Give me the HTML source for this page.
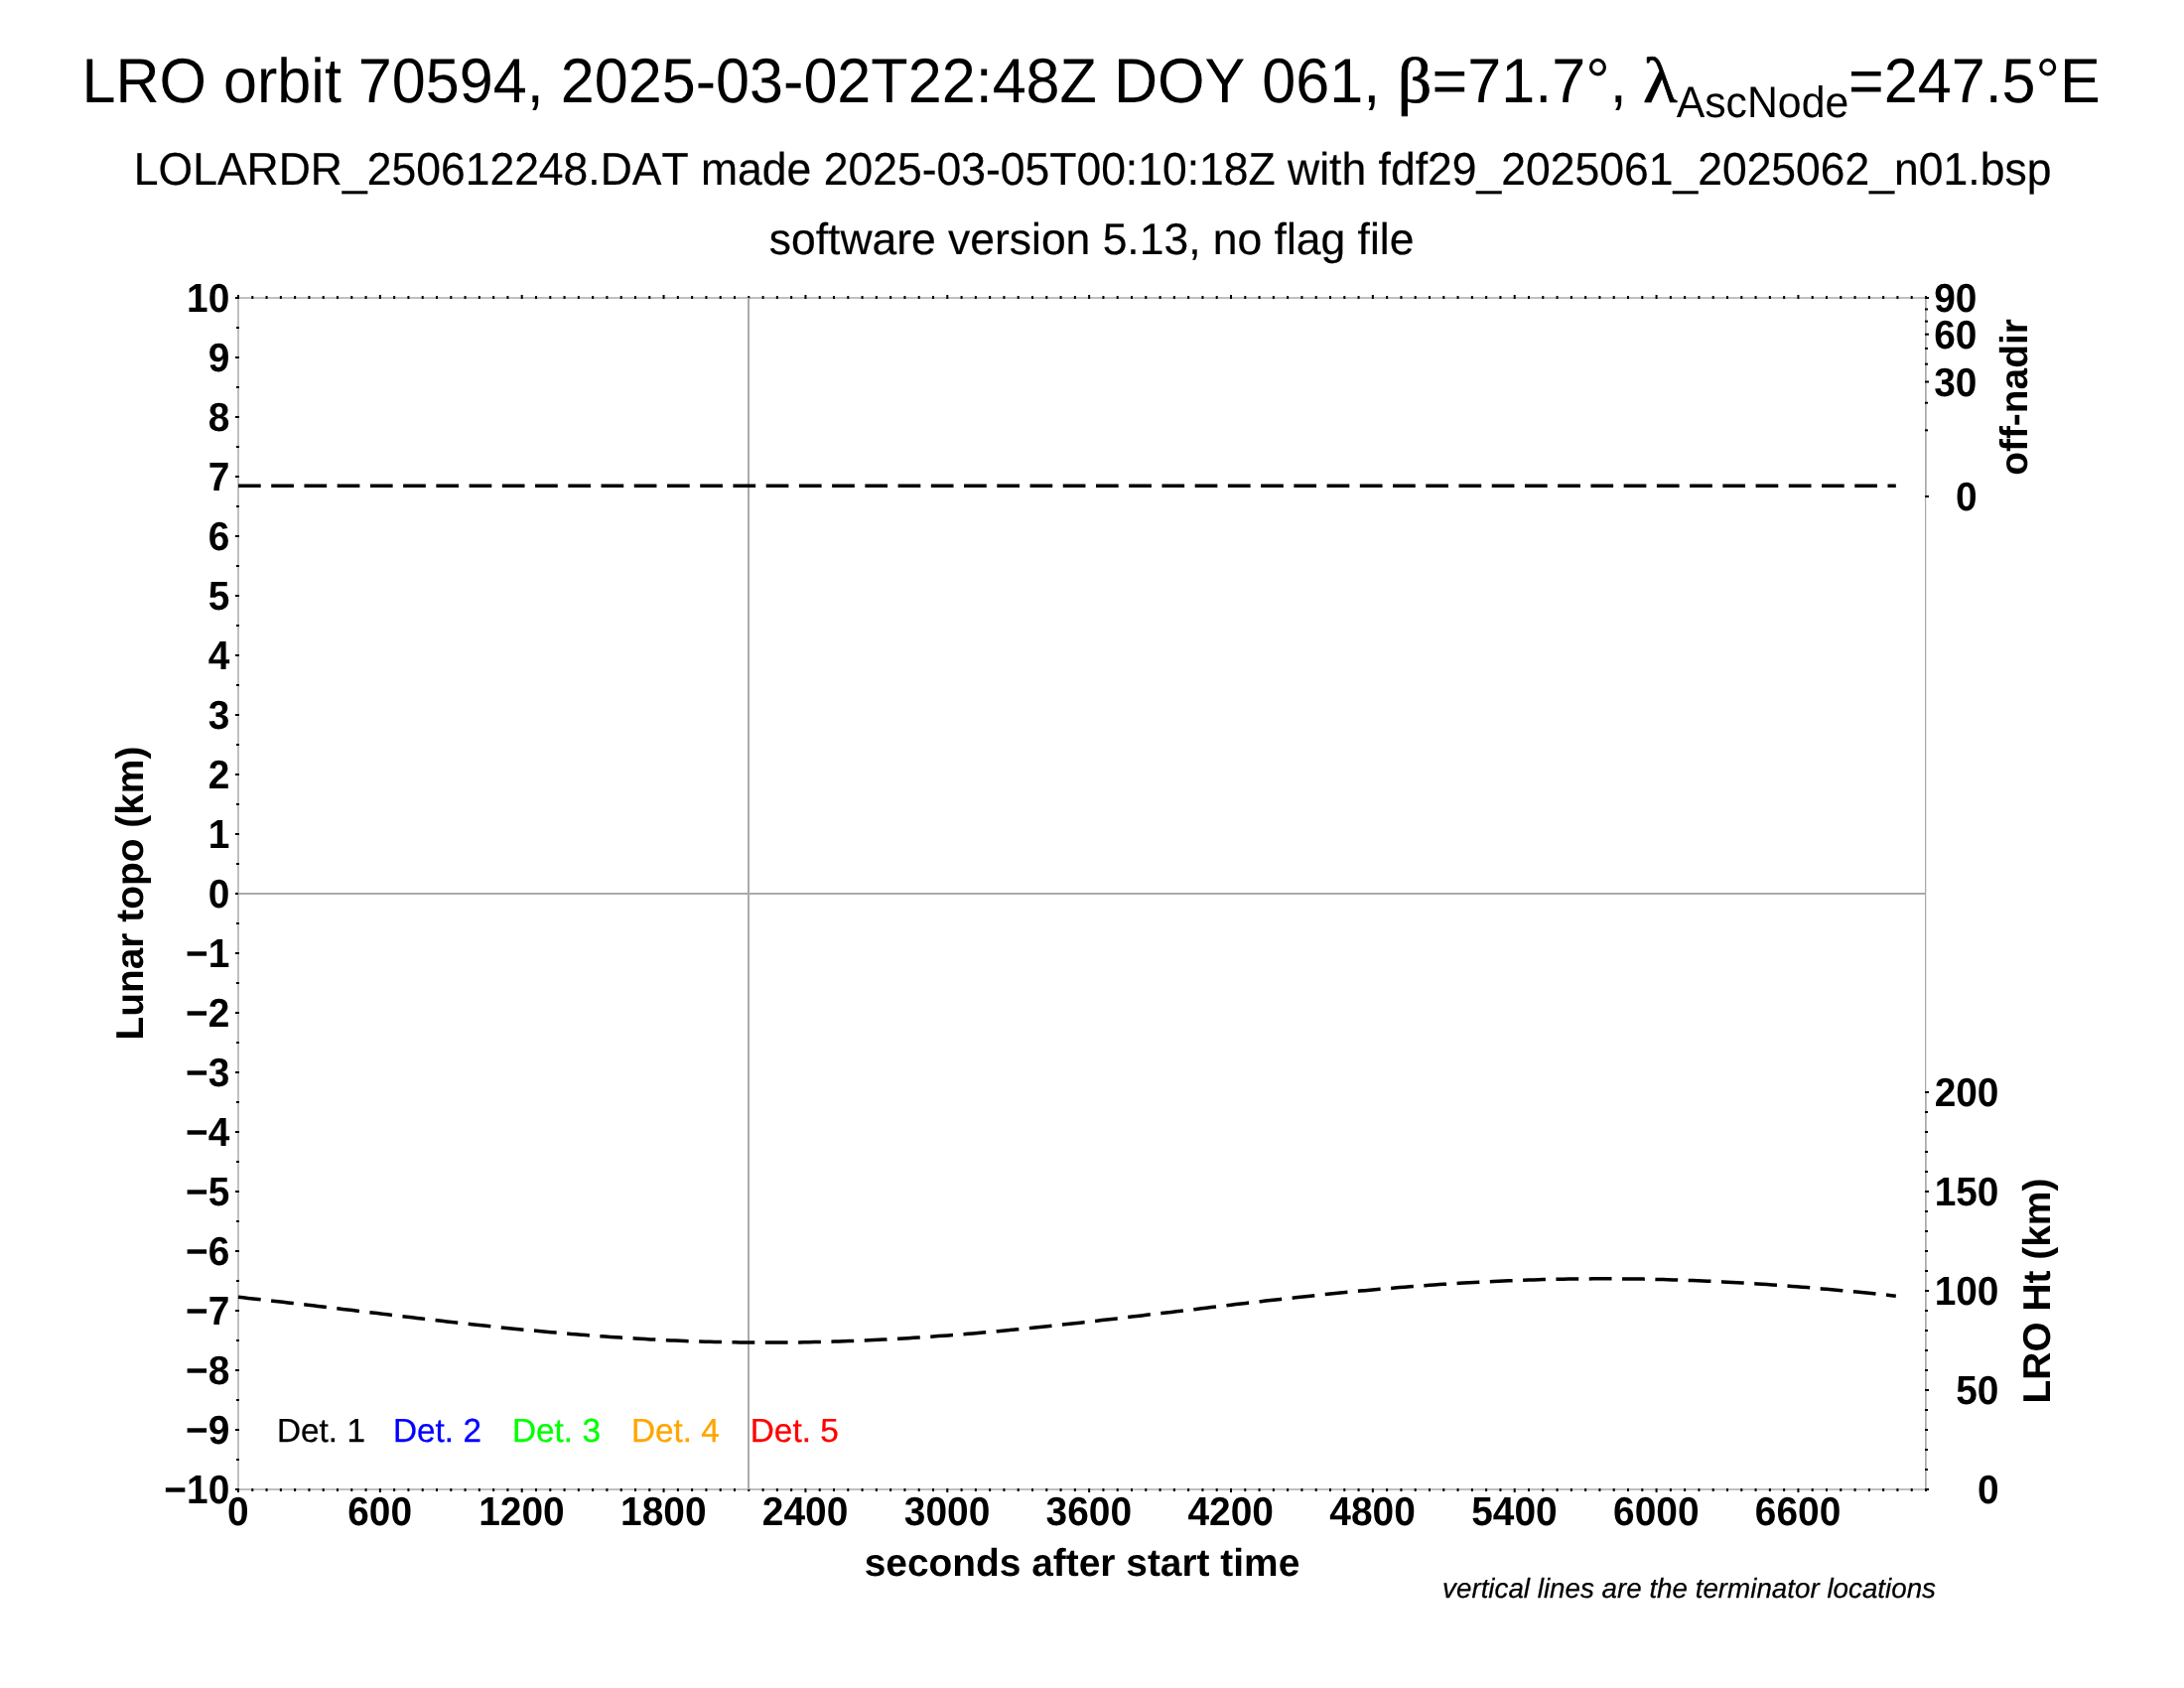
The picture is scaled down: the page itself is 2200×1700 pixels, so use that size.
<!DOCTYPE html>
<html lang="en">
<head>
<meta charset="utf-8">
<title>LRO orbit 70594 LOLA RDR summary</title>
<style>
html,body{margin:0;padding:0;background:#fff;}
body{width:2200px;height:1700px;overflow:hidden;font-family:'Liberation Sans', sans-serif;}
svg{display:block;will-change:transform;}
svg text{font-kerning:none;font-variant-ligatures:none;}
</style>
</head>
<body>
<svg width="2200" height="1700" viewBox="0 0 2200 1700" text-rendering="geometricPrecision">
<rect width="2200" height="1700" fill="#ffffff"/>
<g shape-rendering="crispEdges">
<rect x="239.00" y="299.00" width="1702.00" height="2.00" fill="#c0c0c0"/>
<rect x="239.00" y="1499.00" width="1702.00" height="2.00" fill="#c0c0c0"/>
<rect x="239.00" y="299.00" width="2.00" height="1202.00" fill="#c0c0c0"/>
<rect x="1939.00" y="299.00" width="2.00" height="202.00" fill="#c0c0c0"/>
<rect x="1939.00" y="1099.00" width="2.00" height="402.00" fill="#c0c0c0"/>
<rect x="1939.00" y="299.00" width="1.00" height="1202.00" fill="#aaaaaa"/>
<rect x="1940" y="501" width="1" height="598" fill="#a9a9a9" fill-opacity="0.25"/>
</g>
<g fill="#000">
<rect x="239.00" y="1499.00" width="2.00" height="4.00" fill="#000"/>
<rect x="239.00" y="297.00" width="2.00" height="4.00" fill="#000"/>
<rect x="253.29" y="1499.00" width="2.00" height="3.00" fill="#000"/>
<rect x="253.29" y="298.00" width="2.00" height="3.00" fill="#000"/>
<rect x="267.57" y="1499.00" width="2.00" height="3.00" fill="#000"/>
<rect x="267.57" y="298.00" width="2.00" height="3.00" fill="#000"/>
<rect x="281.86" y="1499.00" width="2.00" height="3.00" fill="#000"/>
<rect x="281.86" y="298.00" width="2.00" height="3.00" fill="#000"/>
<rect x="296.14" y="1499.00" width="2.00" height="3.00" fill="#000"/>
<rect x="296.14" y="298.00" width="2.00" height="3.00" fill="#000"/>
<rect x="310.43" y="1499.00" width="2.00" height="3.00" fill="#000"/>
<rect x="310.43" y="298.00" width="2.00" height="3.00" fill="#000"/>
<rect x="324.71" y="1499.00" width="2.00" height="3.00" fill="#000"/>
<rect x="324.71" y="298.00" width="2.00" height="3.00" fill="#000"/>
<rect x="339.00" y="1499.00" width="2.00" height="3.00" fill="#000"/>
<rect x="339.00" y="298.00" width="2.00" height="3.00" fill="#000"/>
<rect x="353.29" y="1499.00" width="2.00" height="3.00" fill="#000"/>
<rect x="353.29" y="298.00" width="2.00" height="3.00" fill="#000"/>
<rect x="367.57" y="1499.00" width="2.00" height="3.00" fill="#000"/>
<rect x="367.57" y="298.00" width="2.00" height="3.00" fill="#000"/>
<rect x="381.86" y="1499.00" width="2.00" height="4.00" fill="#000"/>
<rect x="381.86" y="297.00" width="2.00" height="4.00" fill="#000"/>
<rect x="396.14" y="1499.00" width="2.00" height="3.00" fill="#000"/>
<rect x="396.14" y="298.00" width="2.00" height="3.00" fill="#000"/>
<rect x="410.43" y="1499.00" width="2.00" height="3.00" fill="#000"/>
<rect x="410.43" y="298.00" width="2.00" height="3.00" fill="#000"/>
<rect x="424.71" y="1499.00" width="2.00" height="3.00" fill="#000"/>
<rect x="424.71" y="298.00" width="2.00" height="3.00" fill="#000"/>
<rect x="439.00" y="1499.00" width="2.00" height="3.00" fill="#000"/>
<rect x="439.00" y="298.00" width="2.00" height="3.00" fill="#000"/>
<rect x="453.29" y="1499.00" width="2.00" height="3.00" fill="#000"/>
<rect x="453.29" y="298.00" width="2.00" height="3.00" fill="#000"/>
<rect x="467.57" y="1499.00" width="2.00" height="3.00" fill="#000"/>
<rect x="467.57" y="298.00" width="2.00" height="3.00" fill="#000"/>
<rect x="481.86" y="1499.00" width="2.00" height="3.00" fill="#000"/>
<rect x="481.86" y="298.00" width="2.00" height="3.00" fill="#000"/>
<rect x="496.14" y="1499.00" width="2.00" height="3.00" fill="#000"/>
<rect x="496.14" y="298.00" width="2.00" height="3.00" fill="#000"/>
<rect x="510.43" y="1499.00" width="2.00" height="3.00" fill="#000"/>
<rect x="510.43" y="298.00" width="2.00" height="3.00" fill="#000"/>
<rect x="524.71" y="1499.00" width="2.00" height="4.00" fill="#000"/>
<rect x="524.71" y="297.00" width="2.00" height="4.00" fill="#000"/>
<rect x="539.00" y="1499.00" width="2.00" height="3.00" fill="#000"/>
<rect x="539.00" y="298.00" width="2.00" height="3.00" fill="#000"/>
<rect x="553.29" y="1499.00" width="2.00" height="3.00" fill="#000"/>
<rect x="553.29" y="298.00" width="2.00" height="3.00" fill="#000"/>
<rect x="567.57" y="1499.00" width="2.00" height="3.00" fill="#000"/>
<rect x="567.57" y="298.00" width="2.00" height="3.00" fill="#000"/>
<rect x="581.86" y="1499.00" width="2.00" height="3.00" fill="#000"/>
<rect x="581.86" y="298.00" width="2.00" height="3.00" fill="#000"/>
<rect x="596.14" y="1499.00" width="2.00" height="3.00" fill="#000"/>
<rect x="596.14" y="298.00" width="2.00" height="3.00" fill="#000"/>
<rect x="610.43" y="1499.00" width="2.00" height="3.00" fill="#000"/>
<rect x="610.43" y="298.00" width="2.00" height="3.00" fill="#000"/>
<rect x="624.71" y="1499.00" width="2.00" height="3.00" fill="#000"/>
<rect x="624.71" y="298.00" width="2.00" height="3.00" fill="#000"/>
<rect x="639.00" y="1499.00" width="2.00" height="3.00" fill="#000"/>
<rect x="639.00" y="298.00" width="2.00" height="3.00" fill="#000"/>
<rect x="653.29" y="1499.00" width="2.00" height="3.00" fill="#000"/>
<rect x="653.29" y="298.00" width="2.00" height="3.00" fill="#000"/>
<rect x="667.57" y="1499.00" width="2.00" height="4.00" fill="#000"/>
<rect x="667.57" y="297.00" width="2.00" height="4.00" fill="#000"/>
<rect x="681.86" y="1499.00" width="2.00" height="3.00" fill="#000"/>
<rect x="681.86" y="298.00" width="2.00" height="3.00" fill="#000"/>
<rect x="696.14" y="1499.00" width="2.00" height="3.00" fill="#000"/>
<rect x="696.14" y="298.00" width="2.00" height="3.00" fill="#000"/>
<rect x="710.43" y="1499.00" width="2.00" height="3.00" fill="#000"/>
<rect x="710.43" y="298.00" width="2.00" height="3.00" fill="#000"/>
<rect x="724.71" y="1499.00" width="2.00" height="3.00" fill="#000"/>
<rect x="724.71" y="298.00" width="2.00" height="3.00" fill="#000"/>
<rect x="739.00" y="1499.00" width="2.00" height="3.00" fill="#000"/>
<rect x="739.00" y="298.00" width="2.00" height="3.00" fill="#000"/>
<rect x="753.29" y="1499.00" width="2.00" height="3.00" fill="#000"/>
<rect x="753.29" y="298.00" width="2.00" height="3.00" fill="#000"/>
<rect x="767.57" y="1499.00" width="2.00" height="3.00" fill="#000"/>
<rect x="767.57" y="298.00" width="2.00" height="3.00" fill="#000"/>
<rect x="781.86" y="1499.00" width="2.00" height="3.00" fill="#000"/>
<rect x="781.86" y="298.00" width="2.00" height="3.00" fill="#000"/>
<rect x="796.14" y="1499.00" width="2.00" height="3.00" fill="#000"/>
<rect x="796.14" y="298.00" width="2.00" height="3.00" fill="#000"/>
<rect x="810.43" y="1499.00" width="2.00" height="4.00" fill="#000"/>
<rect x="810.43" y="297.00" width="2.00" height="4.00" fill="#000"/>
<rect x="824.71" y="1499.00" width="2.00" height="3.00" fill="#000"/>
<rect x="824.71" y="298.00" width="2.00" height="3.00" fill="#000"/>
<rect x="839.00" y="1499.00" width="2.00" height="3.00" fill="#000"/>
<rect x="839.00" y="298.00" width="2.00" height="3.00" fill="#000"/>
<rect x="853.29" y="1499.00" width="2.00" height="3.00" fill="#000"/>
<rect x="853.29" y="298.00" width="2.00" height="3.00" fill="#000"/>
<rect x="867.57" y="1499.00" width="2.00" height="3.00" fill="#000"/>
<rect x="867.57" y="298.00" width="2.00" height="3.00" fill="#000"/>
<rect x="881.86" y="1499.00" width="2.00" height="3.00" fill="#000"/>
<rect x="881.86" y="298.00" width="2.00" height="3.00" fill="#000"/>
<rect x="896.14" y="1499.00" width="2.00" height="3.00" fill="#000"/>
<rect x="896.14" y="298.00" width="2.00" height="3.00" fill="#000"/>
<rect x="910.43" y="1499.00" width="2.00" height="3.00" fill="#000"/>
<rect x="910.43" y="298.00" width="2.00" height="3.00" fill="#000"/>
<rect x="924.71" y="1499.00" width="2.00" height="3.00" fill="#000"/>
<rect x="924.71" y="298.00" width="2.00" height="3.00" fill="#000"/>
<rect x="939.00" y="1499.00" width="2.00" height="3.00" fill="#000"/>
<rect x="939.00" y="298.00" width="2.00" height="3.00" fill="#000"/>
<rect x="953.29" y="1499.00" width="2.00" height="4.00" fill="#000"/>
<rect x="953.29" y="297.00" width="2.00" height="4.00" fill="#000"/>
<rect x="967.57" y="1499.00" width="2.00" height="3.00" fill="#000"/>
<rect x="967.57" y="298.00" width="2.00" height="3.00" fill="#000"/>
<rect x="981.86" y="1499.00" width="2.00" height="3.00" fill="#000"/>
<rect x="981.86" y="298.00" width="2.00" height="3.00" fill="#000"/>
<rect x="996.14" y="1499.00" width="2.00" height="3.00" fill="#000"/>
<rect x="996.14" y="298.00" width="2.00" height="3.00" fill="#000"/>
<rect x="1010.43" y="1499.00" width="2.00" height="3.00" fill="#000"/>
<rect x="1010.43" y="298.00" width="2.00" height="3.00" fill="#000"/>
<rect x="1024.71" y="1499.00" width="2.00" height="3.00" fill="#000"/>
<rect x="1024.71" y="298.00" width="2.00" height="3.00" fill="#000"/>
<rect x="1039.00" y="1499.00" width="2.00" height="3.00" fill="#000"/>
<rect x="1039.00" y="298.00" width="2.00" height="3.00" fill="#000"/>
<rect x="1053.29" y="1499.00" width="2.00" height="3.00" fill="#000"/>
<rect x="1053.29" y="298.00" width="2.00" height="3.00" fill="#000"/>
<rect x="1067.57" y="1499.00" width="2.00" height="3.00" fill="#000"/>
<rect x="1067.57" y="298.00" width="2.00" height="3.00" fill="#000"/>
<rect x="1081.86" y="1499.00" width="2.00" height="3.00" fill="#000"/>
<rect x="1081.86" y="298.00" width="2.00" height="3.00" fill="#000"/>
<rect x="1096.14" y="1499.00" width="2.00" height="4.00" fill="#000"/>
<rect x="1096.14" y="297.00" width="2.00" height="4.00" fill="#000"/>
<rect x="1110.43" y="1499.00" width="2.00" height="3.00" fill="#000"/>
<rect x="1110.43" y="298.00" width="2.00" height="3.00" fill="#000"/>
<rect x="1124.71" y="1499.00" width="2.00" height="3.00" fill="#000"/>
<rect x="1124.71" y="298.00" width="2.00" height="3.00" fill="#000"/>
<rect x="1139.00" y="1499.00" width="2.00" height="3.00" fill="#000"/>
<rect x="1139.00" y="298.00" width="2.00" height="3.00" fill="#000"/>
<rect x="1153.29" y="1499.00" width="2.00" height="3.00" fill="#000"/>
<rect x="1153.29" y="298.00" width="2.00" height="3.00" fill="#000"/>
<rect x="1167.57" y="1499.00" width="2.00" height="3.00" fill="#000"/>
<rect x="1167.57" y="298.00" width="2.00" height="3.00" fill="#000"/>
<rect x="1181.86" y="1499.00" width="2.00" height="3.00" fill="#000"/>
<rect x="1181.86" y="298.00" width="2.00" height="3.00" fill="#000"/>
<rect x="1196.14" y="1499.00" width="2.00" height="3.00" fill="#000"/>
<rect x="1196.14" y="298.00" width="2.00" height="3.00" fill="#000"/>
<rect x="1210.43" y="1499.00" width="2.00" height="3.00" fill="#000"/>
<rect x="1210.43" y="298.00" width="2.00" height="3.00" fill="#000"/>
<rect x="1224.71" y="1499.00" width="2.00" height="3.00" fill="#000"/>
<rect x="1224.71" y="298.00" width="2.00" height="3.00" fill="#000"/>
<rect x="1239.00" y="1499.00" width="2.00" height="4.00" fill="#000"/>
<rect x="1239.00" y="297.00" width="2.00" height="4.00" fill="#000"/>
<rect x="1253.29" y="1499.00" width="2.00" height="3.00" fill="#000"/>
<rect x="1253.29" y="298.00" width="2.00" height="3.00" fill="#000"/>
<rect x="1267.57" y="1499.00" width="2.00" height="3.00" fill="#000"/>
<rect x="1267.57" y="298.00" width="2.00" height="3.00" fill="#000"/>
<rect x="1281.86" y="1499.00" width="2.00" height="3.00" fill="#000"/>
<rect x="1281.86" y="298.00" width="2.00" height="3.00" fill="#000"/>
<rect x="1296.14" y="1499.00" width="2.00" height="3.00" fill="#000"/>
<rect x="1296.14" y="298.00" width="2.00" height="3.00" fill="#000"/>
<rect x="1310.43" y="1499.00" width="2.00" height="3.00" fill="#000"/>
<rect x="1310.43" y="298.00" width="2.00" height="3.00" fill="#000"/>
<rect x="1324.71" y="1499.00" width="2.00" height="3.00" fill="#000"/>
<rect x="1324.71" y="298.00" width="2.00" height="3.00" fill="#000"/>
<rect x="1339.00" y="1499.00" width="2.00" height="3.00" fill="#000"/>
<rect x="1339.00" y="298.00" width="2.00" height="3.00" fill="#000"/>
<rect x="1353.29" y="1499.00" width="2.00" height="3.00" fill="#000"/>
<rect x="1353.29" y="298.00" width="2.00" height="3.00" fill="#000"/>
<rect x="1367.57" y="1499.00" width="2.00" height="3.00" fill="#000"/>
<rect x="1367.57" y="298.00" width="2.00" height="3.00" fill="#000"/>
<rect x="1381.86" y="1499.00" width="2.00" height="4.00" fill="#000"/>
<rect x="1381.86" y="297.00" width="2.00" height="4.00" fill="#000"/>
<rect x="1396.14" y="1499.00" width="2.00" height="3.00" fill="#000"/>
<rect x="1396.14" y="298.00" width="2.00" height="3.00" fill="#000"/>
<rect x="1410.43" y="1499.00" width="2.00" height="3.00" fill="#000"/>
<rect x="1410.43" y="298.00" width="2.00" height="3.00" fill="#000"/>
<rect x="1424.71" y="1499.00" width="2.00" height="3.00" fill="#000"/>
<rect x="1424.71" y="298.00" width="2.00" height="3.00" fill="#000"/>
<rect x="1439.00" y="1499.00" width="2.00" height="3.00" fill="#000"/>
<rect x="1439.00" y="298.00" width="2.00" height="3.00" fill="#000"/>
<rect x="1453.29" y="1499.00" width="2.00" height="3.00" fill="#000"/>
<rect x="1453.29" y="298.00" width="2.00" height="3.00" fill="#000"/>
<rect x="1467.57" y="1499.00" width="2.00" height="3.00" fill="#000"/>
<rect x="1467.57" y="298.00" width="2.00" height="3.00" fill="#000"/>
<rect x="1481.86" y="1499.00" width="2.00" height="3.00" fill="#000"/>
<rect x="1481.86" y="298.00" width="2.00" height="3.00" fill="#000"/>
<rect x="1496.14" y="1499.00" width="2.00" height="3.00" fill="#000"/>
<rect x="1496.14" y="298.00" width="2.00" height="3.00" fill="#000"/>
<rect x="1510.43" y="1499.00" width="2.00" height="3.00" fill="#000"/>
<rect x="1510.43" y="298.00" width="2.00" height="3.00" fill="#000"/>
<rect x="1524.71" y="1499.00" width="2.00" height="4.00" fill="#000"/>
<rect x="1524.71" y="297.00" width="2.00" height="4.00" fill="#000"/>
<rect x="1539.00" y="1499.00" width="2.00" height="3.00" fill="#000"/>
<rect x="1539.00" y="298.00" width="2.00" height="3.00" fill="#000"/>
<rect x="1553.29" y="1499.00" width="2.00" height="3.00" fill="#000"/>
<rect x="1553.29" y="298.00" width="2.00" height="3.00" fill="#000"/>
<rect x="1567.57" y="1499.00" width="2.00" height="3.00" fill="#000"/>
<rect x="1567.57" y="298.00" width="2.00" height="3.00" fill="#000"/>
<rect x="1581.86" y="1499.00" width="2.00" height="3.00" fill="#000"/>
<rect x="1581.86" y="298.00" width="2.00" height="3.00" fill="#000"/>
<rect x="1596.14" y="1499.00" width="2.00" height="3.00" fill="#000"/>
<rect x="1596.14" y="298.00" width="2.00" height="3.00" fill="#000"/>
<rect x="1610.43" y="1499.00" width="2.00" height="3.00" fill="#000"/>
<rect x="1610.43" y="298.00" width="2.00" height="3.00" fill="#000"/>
<rect x="1624.71" y="1499.00" width="2.00" height="3.00" fill="#000"/>
<rect x="1624.71" y="298.00" width="2.00" height="3.00" fill="#000"/>
<rect x="1639.00" y="1499.00" width="2.00" height="3.00" fill="#000"/>
<rect x="1639.00" y="298.00" width="2.00" height="3.00" fill="#000"/>
<rect x="1653.29" y="1499.00" width="2.00" height="3.00" fill="#000"/>
<rect x="1653.29" y="298.00" width="2.00" height="3.00" fill="#000"/>
<rect x="1667.57" y="1499.00" width="2.00" height="4.00" fill="#000"/>
<rect x="1667.57" y="297.00" width="2.00" height="4.00" fill="#000"/>
<rect x="1681.86" y="1499.00" width="2.00" height="3.00" fill="#000"/>
<rect x="1681.86" y="298.00" width="2.00" height="3.00" fill="#000"/>
<rect x="1696.14" y="1499.00" width="2.00" height="3.00" fill="#000"/>
<rect x="1696.14" y="298.00" width="2.00" height="3.00" fill="#000"/>
<rect x="1710.43" y="1499.00" width="2.00" height="3.00" fill="#000"/>
<rect x="1710.43" y="298.00" width="2.00" height="3.00" fill="#000"/>
<rect x="1724.71" y="1499.00" width="2.00" height="3.00" fill="#000"/>
<rect x="1724.71" y="298.00" width="2.00" height="3.00" fill="#000"/>
<rect x="1739.00" y="1499.00" width="2.00" height="3.00" fill="#000"/>
<rect x="1739.00" y="298.00" width="2.00" height="3.00" fill="#000"/>
<rect x="1753.29" y="1499.00" width="2.00" height="3.00" fill="#000"/>
<rect x="1753.29" y="298.00" width="2.00" height="3.00" fill="#000"/>
<rect x="1767.57" y="1499.00" width="2.00" height="3.00" fill="#000"/>
<rect x="1767.57" y="298.00" width="2.00" height="3.00" fill="#000"/>
<rect x="1781.86" y="1499.00" width="2.00" height="3.00" fill="#000"/>
<rect x="1781.86" y="298.00" width="2.00" height="3.00" fill="#000"/>
<rect x="1796.14" y="1499.00" width="2.00" height="3.00" fill="#000"/>
<rect x="1796.14" y="298.00" width="2.00" height="3.00" fill="#000"/>
<rect x="1810.43" y="1499.00" width="2.00" height="4.00" fill="#000"/>
<rect x="1810.43" y="297.00" width="2.00" height="4.00" fill="#000"/>
<rect x="1824.71" y="1499.00" width="2.00" height="3.00" fill="#000"/>
<rect x="1824.71" y="298.00" width="2.00" height="3.00" fill="#000"/>
<rect x="1839.00" y="1499.00" width="2.00" height="3.00" fill="#000"/>
<rect x="1839.00" y="298.00" width="2.00" height="3.00" fill="#000"/>
<rect x="1853.29" y="1499.00" width="2.00" height="3.00" fill="#000"/>
<rect x="1853.29" y="298.00" width="2.00" height="3.00" fill="#000"/>
<rect x="1867.57" y="1499.00" width="2.00" height="3.00" fill="#000"/>
<rect x="1867.57" y="298.00" width="2.00" height="3.00" fill="#000"/>
<rect x="1881.86" y="1499.00" width="2.00" height="3.00" fill="#000"/>
<rect x="1881.86" y="298.00" width="2.00" height="3.00" fill="#000"/>
<rect x="1896.14" y="1499.00" width="2.00" height="3.00" fill="#000"/>
<rect x="1896.14" y="298.00" width="2.00" height="3.00" fill="#000"/>
<rect x="1910.43" y="1499.00" width="2.00" height="3.00" fill="#000"/>
<rect x="1910.43" y="298.00" width="2.00" height="3.00" fill="#000"/>
<rect x="1924.71" y="1499.00" width="2.00" height="3.00" fill="#000"/>
<rect x="1924.71" y="298.00" width="2.00" height="3.00" fill="#000"/>
<rect x="1939.00" y="1499.00" width="2.00" height="3.00" fill="#000"/>
<rect x="1939.00" y="298.00" width="2.00" height="3.00" fill="#000"/>
<rect x="237.00" y="1499.00" width="4.00" height="2.00" fill="#000"/>
<rect x="238.00" y="1469.00" width="3.00" height="2.00" fill="#000"/>
<rect x="237.00" y="1439.00" width="4.00" height="2.00" fill="#000"/>
<rect x="238.00" y="1409.00" width="3.00" height="2.00" fill="#000"/>
<rect x="237.00" y="1379.00" width="4.00" height="2.00" fill="#000"/>
<rect x="238.00" y="1349.00" width="3.00" height="2.00" fill="#000"/>
<rect x="237.00" y="1319.00" width="4.00" height="2.00" fill="#000"/>
<rect x="238.00" y="1289.00" width="3.00" height="2.00" fill="#000"/>
<rect x="237.00" y="1259.00" width="4.00" height="2.00" fill="#000"/>
<rect x="238.00" y="1229.00" width="3.00" height="2.00" fill="#000"/>
<rect x="237.00" y="1199.00" width="4.00" height="2.00" fill="#000"/>
<rect x="238.00" y="1169.00" width="3.00" height="2.00" fill="#000"/>
<rect x="237.00" y="1139.00" width="4.00" height="2.00" fill="#000"/>
<rect x="238.00" y="1109.00" width="3.00" height="2.00" fill="#000"/>
<rect x="237.00" y="1079.00" width="4.00" height="2.00" fill="#000"/>
<rect x="238.00" y="1049.00" width="3.00" height="2.00" fill="#000"/>
<rect x="237.00" y="1019.00" width="4.00" height="2.00" fill="#000"/>
<rect x="238.00" y="989.00" width="3.00" height="2.00" fill="#000"/>
<rect x="237.00" y="959.00" width="4.00" height="2.00" fill="#000"/>
<rect x="238.00" y="929.00" width="3.00" height="2.00" fill="#000"/>
<rect x="237.00" y="899.00" width="4.00" height="2.00" fill="#000"/>
<rect x="238.00" y="869.00" width="3.00" height="2.00" fill="#000"/>
<rect x="237.00" y="839.00" width="4.00" height="2.00" fill="#000"/>
<rect x="238.00" y="809.00" width="3.00" height="2.00" fill="#000"/>
<rect x="237.00" y="779.00" width="4.00" height="2.00" fill="#000"/>
<rect x="238.00" y="749.00" width="3.00" height="2.00" fill="#000"/>
<rect x="237.00" y="719.00" width="4.00" height="2.00" fill="#000"/>
<rect x="238.00" y="689.00" width="3.00" height="2.00" fill="#000"/>
<rect x="237.00" y="659.00" width="4.00" height="2.00" fill="#000"/>
<rect x="238.00" y="629.00" width="3.00" height="2.00" fill="#000"/>
<rect x="237.00" y="599.00" width="4.00" height="2.00" fill="#000"/>
<rect x="238.00" y="569.00" width="3.00" height="2.00" fill="#000"/>
<rect x="237.00" y="539.00" width="4.00" height="2.00" fill="#000"/>
<rect x="238.00" y="509.00" width="3.00" height="2.00" fill="#000"/>
<rect x="237.00" y="479.00" width="4.00" height="2.00" fill="#000"/>
<rect x="238.00" y="449.00" width="3.00" height="2.00" fill="#000"/>
<rect x="237.00" y="419.00" width="4.00" height="2.00" fill="#000"/>
<rect x="238.00" y="389.00" width="3.00" height="2.00" fill="#000"/>
<rect x="237.00" y="359.00" width="4.00" height="2.00" fill="#000"/>
<rect x="238.00" y="329.00" width="3.00" height="2.00" fill="#000"/>
<rect x="237.00" y="299.00" width="4.00" height="2.00" fill="#000"/>
<rect x="1939.00" y="1499.00" width="4.00" height="2.00" fill="#000"/>
<rect x="1939.00" y="1479.00" width="3.00" height="2.00" fill="#000"/>
<rect x="1939.00" y="1459.00" width="3.00" height="2.00" fill="#000"/>
<rect x="1939.00" y="1439.00" width="3.00" height="2.00" fill="#000"/>
<rect x="1939.00" y="1419.00" width="3.00" height="2.00" fill="#000"/>
<rect x="1939.00" y="1399.00" width="4.00" height="2.00" fill="#000"/>
<rect x="1939.00" y="1379.00" width="3.00" height="2.00" fill="#000"/>
<rect x="1939.00" y="1359.00" width="3.00" height="2.00" fill="#000"/>
<rect x="1939.00" y="1339.00" width="3.00" height="2.00" fill="#000"/>
<rect x="1939.00" y="1319.00" width="3.00" height="2.00" fill="#000"/>
<rect x="1939.00" y="1299.00" width="4.00" height="2.00" fill="#000"/>
<rect x="1939.00" y="1279.00" width="3.00" height="2.00" fill="#000"/>
<rect x="1939.00" y="1259.00" width="3.00" height="2.00" fill="#000"/>
<rect x="1939.00" y="1239.00" width="3.00" height="2.00" fill="#000"/>
<rect x="1939.00" y="1219.00" width="3.00" height="2.00" fill="#000"/>
<rect x="1939.00" y="1199.00" width="4.00" height="2.00" fill="#000"/>
<rect x="1939.00" y="1179.00" width="3.00" height="2.00" fill="#000"/>
<rect x="1939.00" y="1159.00" width="3.00" height="2.00" fill="#000"/>
<rect x="1939.00" y="1139.00" width="3.00" height="2.00" fill="#000"/>
<rect x="1939.00" y="1119.00" width="3.00" height="2.00" fill="#000"/>
<rect x="1939.00" y="1099.00" width="4.00" height="2.00" fill="#000"/>
<rect x="1939.00" y="499.00" width="4.00" height="2.00" fill="#000"/>
<rect x="1939.00" y="432.33" width="3.00" height="2.00" fill="#000"/>
<rect x="1939.00" y="404.72" width="3.00" height="2.00" fill="#000"/>
<rect x="1939.00" y="383.53" width="4.00" height="2.00" fill="#000"/>
<rect x="1939.00" y="365.67" width="3.00" height="2.00" fill="#000"/>
<rect x="1939.00" y="349.93" width="3.00" height="2.00" fill="#000"/>
<rect x="1939.00" y="335.70" width="4.00" height="2.00" fill="#000"/>
<rect x="1939.00" y="322.62" width="3.00" height="2.00" fill="#000"/>
<rect x="1939.00" y="310.44" width="3.00" height="2.00" fill="#000"/>
<rect x="1939.00" y="299.00" width="4.00" height="2.00" fill="#000"/>
</g>
<g shape-rendering="crispEdges">
<rect x="240.00" y="899.00" width="1699.00" height="2.00" fill="#aaaaaa"/>
<rect x="753.00" y="300.00" width="2.00" height="1200.00" fill="#aaaaaa"/>
</g>
<path d="M240.0,1306.3 L245.0,1306.8 L250.0,1307.4 L255.0,1307.9 L260.0,1308.5 L265.0,1309.0 L270.0,1309.6 L275.0,1310.2 L280.0,1310.7 L285.0,1311.3 L290.0,1311.9 L295.0,1312.5 L300.0,1313.1 L305.0,1313.7 L310.0,1314.2 L315.0,1314.8 L320.0,1315.4 L325.0,1316.0 L330.0,1316.6 L335.0,1317.2 L340.0,1317.8 L345.0,1318.4 L350.0,1319.0 L355.0,1319.6 L360.0,1320.2 L365.0,1320.8 L370.0,1321.4 L375.0,1322.0 L380.0,1322.6 L385.0,1323.2 L390.0,1323.8 L395.0,1324.4 L400.0,1325.0 L405.0,1325.6 L410.0,1326.2 L415.0,1326.8 L420.0,1327.4 L425.0,1328.0 L430.0,1328.6 L435.0,1329.1 L440.0,1329.7 L445.0,1330.3 L450.0,1330.9 L455.0,1331.4 L460.0,1332.0 L465.0,1332.6 L470.0,1333.1 L475.0,1333.7 L480.0,1334.2 L485.0,1334.7 L490.0,1335.3 L495.0,1335.8 L500.0,1336.3 L505.0,1336.9 L510.0,1337.4 L515.0,1337.9 L520.0,1338.4 L525.0,1338.9 L530.0,1339.4 L535.0,1339.8 L540.0,1340.3 L545.0,1340.8 L550.0,1341.2 L555.0,1341.7 L560.0,1342.1 L565.0,1342.6 L570.0,1343.0 L575.0,1343.4 L580.0,1343.8 L585.0,1344.2 L590.0,1344.6 L595.0,1345.0 L600.0,1345.4 L605.0,1345.7 L610.0,1346.1 L615.0,1346.4 L620.0,1346.8 L625.0,1347.1 L630.0,1347.4 L635.0,1347.7 L640.0,1348.0 L645.0,1348.3 L650.0,1348.6 L655.0,1348.9 L660.0,1349.1 L665.0,1349.4 L670.0,1349.6 L675.0,1349.9 L680.0,1350.1 L685.0,1350.3 L690.0,1350.5 L695.0,1350.7 L700.0,1350.8 L705.0,1351.0 L710.0,1351.2 L715.0,1351.3 L720.0,1351.4 L725.0,1351.5 L730.0,1351.6 L735.0,1351.7 L740.0,1351.8 L745.0,1351.9 L750.0,1352.0 L755.0,1352.0 L760.0,1352.1 L765.0,1352.1 L770.0,1352.1 L775.0,1352.1 L780.0,1352.1 L785.0,1352.1 L790.0,1352.0 L795.0,1352.0 L800.0,1351.9 L805.0,1351.9 L810.0,1351.8 L815.0,1351.7 L820.0,1351.6 L825.0,1351.5 L830.0,1351.4 L835.0,1351.3 L840.0,1351.1 L845.0,1351.0 L850.0,1350.8 L855.0,1350.6 L860.0,1350.4 L865.0,1350.2 L870.0,1350.0 L875.0,1349.8 L880.0,1349.6 L885.0,1349.3 L890.0,1349.1 L895.0,1348.8 L900.0,1348.5 L905.0,1348.3 L910.0,1348.0 L915.0,1347.7 L920.0,1347.3 L925.0,1347.0 L930.0,1346.7 L935.0,1346.4 L940.0,1346.0 L945.0,1345.6 L950.0,1345.3 L955.0,1344.9 L960.0,1344.5 L965.0,1344.1 L970.0,1343.7 L975.0,1343.3 L980.0,1342.9 L985.0,1342.4 L990.0,1342.0 L995.0,1341.6 L1000.0,1341.1 L1005.0,1340.7 L1010.0,1340.2 L1015.0,1339.7 L1020.0,1339.2 L1025.0,1338.8 L1030.0,1338.3 L1035.0,1337.8 L1040.0,1337.3 L1045.0,1336.7 L1050.0,1336.2 L1055.0,1335.7 L1060.0,1335.2 L1065.0,1334.6 L1070.0,1334.1 L1075.0,1333.6 L1080.0,1333.0 L1085.0,1332.4 L1090.0,1331.9 L1095.0,1331.3 L1100.0,1330.8 L1105.0,1330.2 L1110.0,1329.6 L1115.0,1329.0 L1120.0,1328.5 L1125.0,1327.9 L1130.0,1327.3 L1135.0,1326.7 L1140.0,1326.1 L1145.0,1325.5 L1150.0,1324.9 L1155.0,1324.3 L1160.0,1323.7 L1165.0,1323.1 L1170.0,1322.6 L1175.0,1322.0 L1180.0,1321.4 L1185.0,1320.8 L1190.0,1320.2 L1195.0,1319.6 L1200.0,1319.0 L1205.0,1318.4 L1210.0,1317.8 L1215.0,1317.2 L1220.0,1316.6 L1225.0,1316.0 L1230.0,1315.4 L1235.0,1314.8 L1240.0,1314.2 L1245.0,1313.6 L1250.0,1313.0 L1255.0,1312.4 L1260.0,1311.8 L1265.0,1311.3 L1270.0,1310.7 L1275.0,1310.1 L1280.0,1309.6 L1285.0,1309.0 L1290.0,1308.4 L1295.0,1307.9 L1300.0,1307.3 L1305.0,1306.8 L1310.0,1306.2 L1315.0,1305.7 L1320.0,1305.2 L1325.0,1304.6 L1330.0,1304.1 L1335.0,1303.6 L1340.0,1303.1 L1345.0,1302.6 L1350.0,1302.1 L1355.0,1301.6 L1360.0,1301.1 L1365.0,1300.6 L1370.0,1300.1 L1375.0,1299.7 L1380.0,1299.2 L1385.0,1298.8 L1390.0,1298.3 L1395.0,1297.9 L1400.0,1297.5 L1405.0,1297.0 L1410.0,1296.6 L1415.0,1296.2 L1420.0,1295.8 L1425.0,1295.4 L1430.0,1295.0 L1435.0,1294.7 L1440.0,1294.3 L1445.0,1294.0 L1450.0,1293.6 L1455.0,1293.3 L1460.0,1292.9 L1465.0,1292.6 L1470.0,1292.3 L1475.0,1292.0 L1480.0,1291.7 L1485.0,1291.5 L1490.0,1291.2 L1495.0,1290.9 L1500.0,1290.7 L1505.0,1290.4 L1510.0,1290.2 L1515.0,1290.0 L1520.0,1289.8 L1525.0,1289.6 L1530.0,1289.4 L1535.0,1289.2 L1540.0,1289.0 L1545.0,1288.9 L1550.0,1288.7 L1555.0,1288.6 L1560.0,1288.5 L1565.0,1288.4 L1570.0,1288.2 L1575.0,1288.2 L1580.0,1288.1 L1585.0,1288.0 L1590.0,1287.9 L1595.0,1287.9 L1600.0,1287.9 L1605.0,1287.8 L1610.0,1287.8 L1615.0,1287.8 L1620.0,1287.8 L1625.0,1287.8 L1630.0,1287.8 L1635.0,1287.9 L1640.0,1287.9 L1645.0,1288.0 L1650.0,1288.1 L1655.0,1288.1 L1660.0,1288.2 L1665.0,1288.3 L1670.0,1288.5 L1675.0,1288.6 L1680.0,1288.7 L1685.0,1288.9 L1690.0,1289.0 L1695.0,1289.2 L1700.0,1289.4 L1705.0,1289.6 L1710.0,1289.8 L1715.0,1290.0 L1720.0,1290.2 L1725.0,1290.4 L1730.0,1290.7 L1735.0,1290.9 L1740.0,1291.2 L1745.0,1291.4 L1750.0,1291.7 L1755.0,1292.0 L1760.0,1292.3 L1765.0,1292.6 L1770.0,1292.9 L1775.0,1293.3 L1780.0,1293.6 L1785.0,1294.0 L1790.0,1294.3 L1795.0,1294.7 L1800.0,1295.0 L1805.0,1295.4 L1810.0,1295.8 L1815.0,1296.2 L1820.0,1296.6 L1825.0,1297.0 L1830.0,1297.5 L1835.0,1297.9 L1840.0,1298.3 L1845.0,1298.8 L1850.0,1299.2 L1855.0,1299.7 L1860.0,1300.2 L1865.0,1300.6 L1870.0,1301.1 L1875.0,1301.6 L1880.0,1302.1 L1885.0,1302.6 L1890.0,1303.1 L1895.0,1303.6 L1900.0,1304.1 L1905.0,1304.7 L1909.8,1305.2" stroke="#000" stroke-width="3.5" fill="none" stroke-dasharray="22.8 10.52"/>
<path d="M240.0,489.3 L1909.8,489.3" stroke="#000" stroke-width="3.5" fill="none" stroke-dasharray="22.7 10.53"/>
<g font-family="'Liberation Sans', sans-serif" fill="#000" stroke="#000" stroke-width="0" stroke-linejoin="round">
<text transform="scale(1,1.035)" font-size="61.11"><tspan x="82.4" y="99.90">LRO orbit 70594, 2025-03-02T22:48Z DOY 061, </tspan><tspan x="1407.8" y="99.90" font-family="'Liberation Serif', 'DejaVu Serif', serif" font-size="62.59" stroke-width="0.8" textLength="34.51" lengthAdjust="spacingAndGlyphs">β</tspan><tspan x="1442.6" y="99.90">=71.7°, </tspan><tspan x="1655.0" y="99.90" font-family="'Liberation Serif', 'DejaVu Serif', serif" font-size="62.88" stroke-width="0.7" textLength="34.67" lengthAdjust="spacingAndGlyphs">λ</tspan><tspan x="1688.7" y="113.91" font-size="42.78">AscNode</tspan><tspan x="1862.0" y="99.90">=247.5°E</tspan></text>
<text transform="translate(1100.6,185.8) scale(1,1.035)" font-size="44.49" stroke-width="0.2" text-anchor="middle">LOLARDR_250612248.DAT made 2025-03-05T00:10:18Z with fdf29_2025061_2025062_n01.bsp</text>
<text x="1099.6" y="255.7" font-size="44.44" stroke-width="0.2" text-anchor="middle">software version 5.13, no flag file</text>
<g font-weight="bold" font-size="38.89">
<text transform="translate(231.3,1514.0) scale(1,1.045)" text-anchor="end">−10</text>
<text transform="translate(231.3,1454.0) scale(1,1.045)" text-anchor="end">−9</text>
<text transform="translate(231.3,1394.0) scale(1,1.045)" text-anchor="end">−8</text>
<text transform="translate(231.3,1334.0) scale(1,1.045)" text-anchor="end">−7</text>
<text transform="translate(231.3,1274.0) scale(1,1.045)" text-anchor="end">−6</text>
<text transform="translate(231.3,1214.0) scale(1,1.045)" text-anchor="end">−5</text>
<text transform="translate(231.3,1154.0) scale(1,1.045)" text-anchor="end">−4</text>
<text transform="translate(231.3,1094.0) scale(1,1.045)" text-anchor="end">−3</text>
<text transform="translate(231.3,1034.0) scale(1,1.045)" text-anchor="end">−2</text>
<text transform="translate(231.3,974.0) scale(1,1.045)" text-anchor="end">−1</text>
<text transform="translate(231.3,914.0) scale(1,1.045)" text-anchor="end">0</text>
<text transform="translate(231.3,854.0) scale(1,1.045)" text-anchor="end">1</text>
<text transform="translate(231.3,794.0) scale(1,1.045)" text-anchor="end">2</text>
<text transform="translate(231.3,734.0) scale(1,1.045)" text-anchor="end">3</text>
<text transform="translate(231.3,674.0) scale(1,1.045)" text-anchor="end">4</text>
<text transform="translate(231.3,614.0) scale(1,1.045)" text-anchor="end">5</text>
<text transform="translate(231.3,554.0) scale(1,1.045)" text-anchor="end">6</text>
<text transform="translate(231.3,493.9) scale(1,1.045)" text-anchor="end">7</text>
<text transform="translate(231.3,433.9) scale(1,1.045)" text-anchor="end">8</text>
<text transform="translate(231.3,373.9) scale(1,1.045)" text-anchor="end">9</text>
<text transform="translate(231.3,313.9) scale(1,1.045)" text-anchor="end">10</text>
<text transform="translate(239.7,1535.9) scale(1,1.045)" text-anchor="middle">0</text>
<text transform="translate(382.6,1535.9) scale(1,1.045)" text-anchor="middle">600</text>
<text transform="translate(525.4,1535.9) scale(1,1.045)" text-anchor="middle">1200</text>
<text transform="translate(668.3,1535.9) scale(1,1.045)" text-anchor="middle">1800</text>
<text transform="translate(811.1,1535.9) scale(1,1.045)" text-anchor="middle">2400</text>
<text transform="translate(954.0,1535.9) scale(1,1.045)" text-anchor="middle">3000</text>
<text transform="translate(1096.8,1535.9) scale(1,1.045)" text-anchor="middle">3600</text>
<text transform="translate(1239.7,1535.9) scale(1,1.045)" text-anchor="middle">4200</text>
<text transform="translate(1382.6,1535.9) scale(1,1.045)" text-anchor="middle">4800</text>
<text transform="translate(1525.4,1535.9) scale(1,1.045)" text-anchor="middle">5400</text>
<text transform="translate(1668.3,1535.9) scale(1,1.045)" text-anchor="middle">6000</text>
<text transform="translate(1811.1,1535.9) scale(1,1.045)" text-anchor="middle">6600</text>
<text transform="translate(2013.5,1514.0) scale(1,1.045)" text-anchor="end">0</text>
<text transform="translate(2013.5,1414.0) scale(1,1.045)" text-anchor="end">50</text>
<text transform="translate(2013.5,1314.0) scale(1,1.045)" text-anchor="end">100</text>
<text transform="translate(2013.5,1214.0) scale(1,1.045)" text-anchor="end">150</text>
<text transform="translate(2013.5,1114.0) scale(1,1.045)" text-anchor="end">200</text>
<text transform="translate(1991.5,514.1) scale(1,1.045)" text-anchor="end">0</text>
<text transform="translate(1991.5,398.6) scale(1,1.045)" text-anchor="end">30</text>
<text transform="translate(1991.5,350.8) scale(1,1.045)" text-anchor="end">60</text>
<text transform="translate(1991.5,314.1) scale(1,1.045)" text-anchor="end">90</text>
<text x="1090" y="1587.3" text-anchor="middle">seconds after start time</text>
<text transform="translate(144,899.6) rotate(-90)" text-anchor="middle">Lunar topo (km)</text>
<text transform="translate(2042,400) rotate(-90)" text-anchor="middle">off-nadir</text>
<text transform="translate(2064.7,1300) rotate(-90)" text-anchor="middle">LRO Ht (km)</text>
</g>
<text x="279.0" y="1452" font-size="33.33" fill="#000000" stroke="#000000" stroke-width="0.3">Det. 1</text>
<text x="396.0" y="1452" font-size="33.33" fill="#0000ff" stroke="#0000ff" stroke-width="0.3">Det. 2</text>
<text x="516.0" y="1452" font-size="33.33" fill="#00ff00" stroke="#00ff00" stroke-width="0.3">Det. 3</text>
<text x="635.9" y="1452" font-size="33.33" fill="#ffa500" stroke="#ffa500" stroke-width="0.3">Det. 4</text>
<text x="755.8" y="1452" font-size="33.33" fill="#ff0000" stroke="#ff0000" stroke-width="0.3">Det. 5</text>
<text x="1950" y="1609.3" font-size="27.78" font-style="italic" stroke-width="0.25" text-anchor="end">vertical lines are the terminator locations</text>
</g>
</svg>
</body>
</html>
